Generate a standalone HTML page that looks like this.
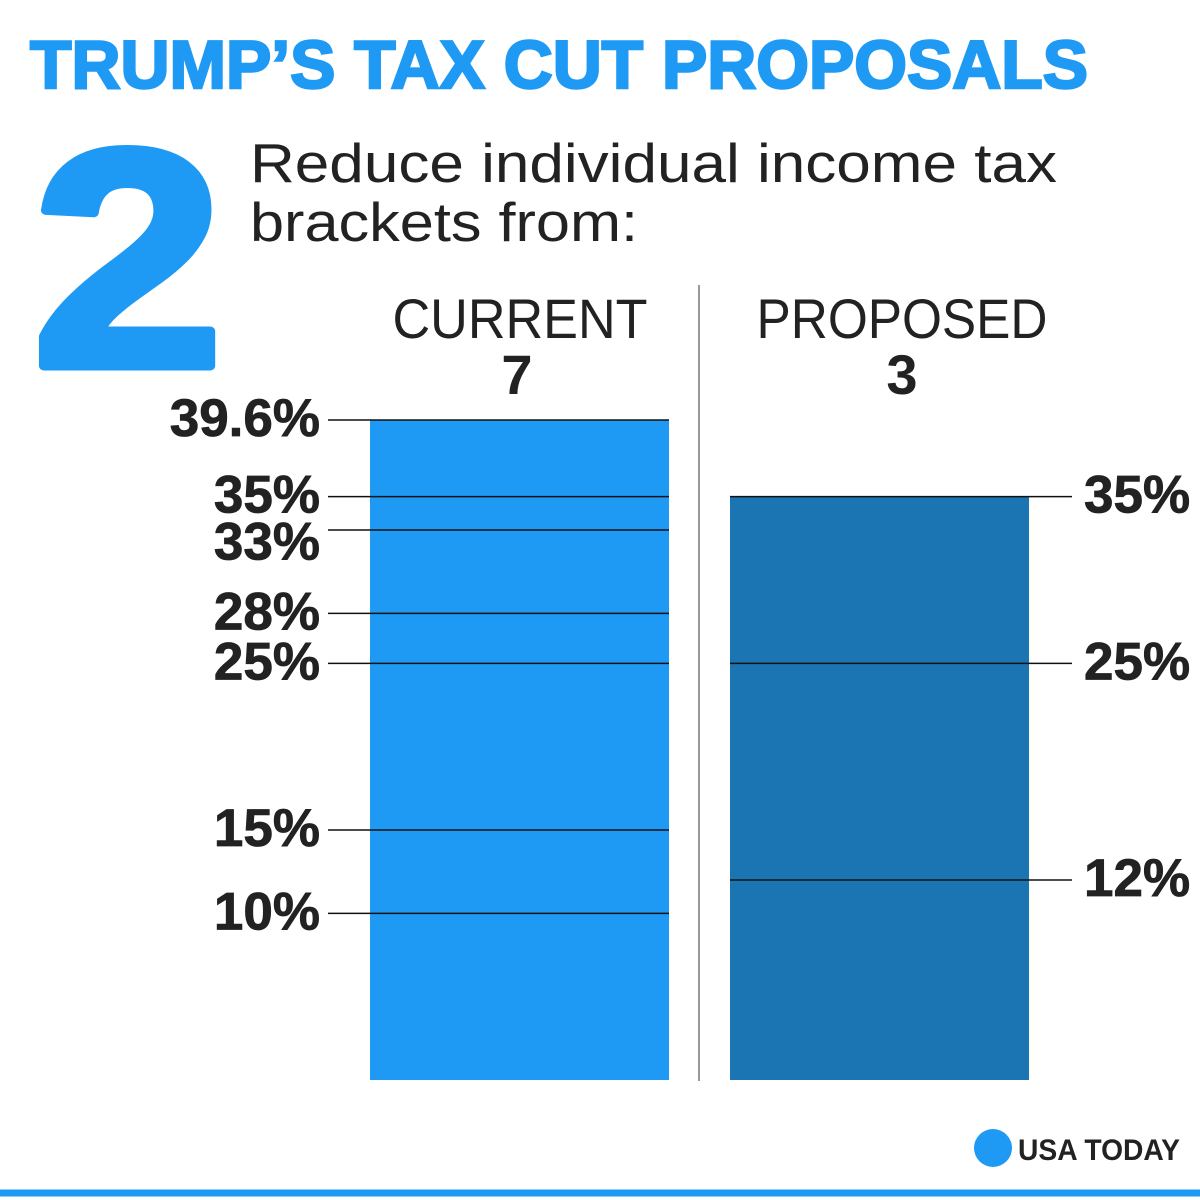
<!DOCTYPE html>
<html><head><meta charset="utf-8"><style>
html,body{margin:0;padding:0;background:#fff;width:1200px;height:1200px;overflow:hidden}
svg{display:block;font-family:"Liberation Sans",sans-serif}
</style></head><body>
<svg id="chart" width="1200" height="1200" viewBox="0 0 1200 1200">
<text x="30" y="88" font-size="68" font-weight="bold" fill="#1e9af5" stroke="#1e9af5" stroke-width="2.5" textLength="1058" lengthAdjust="spacingAndGlyphs">TRUMP’S TAX CUT PROPOSALS</text>
<text x="32" y="366" font-size="310" font-weight="bold" fill="#1e9af5" stroke="#1e9af5" stroke-width="9" stroke-linejoin="round" textLength="192" lengthAdjust="spacingAndGlyphs">2</text>
<text x="250" y="182" font-size="55" fill="#222" textLength="807" lengthAdjust="spacingAndGlyphs">Reduce individual income tax</text>
<text x="250" y="241" font-size="55" fill="#222" textLength="388" lengthAdjust="spacingAndGlyphs">brackets from:</text>
<line x1="699" y1="285" x2="699" y2="1081" stroke="#999" stroke-width="2"/>
<text x="520" y="338" font-size="56" fill="#222" text-anchor="middle" textLength="255" lengthAdjust="spacingAndGlyphs">CURRENT</text>
<text x="517" y="394" font-size="56" font-weight="bold" fill="#222" text-anchor="middle">7</text>
<text x="902" y="338" font-size="56" fill="#222" text-anchor="middle" textLength="291" lengthAdjust="spacingAndGlyphs">PROPOSED</text>
<text x="902" y="394" font-size="56" font-weight="bold" fill="#222" text-anchor="middle">3</text>
<g id="marks"></g>
<line x1="0" y1="1193" x2="1200" y2="1193" stroke="#1e9af5" stroke-width="7"/>
<circle cx="993" cy="1148" r="19" fill="#1e9af5"/>
<text x="1018" y="1160" font-size="30" font-weight="bold" fill="#222" textLength="162" lengthAdjust="spacingAndGlyphs">USA TODAY</text>
</svg>
<script>
const currentRates = [39.6, 35, 33, 28, 25, 15, 10];
const currentLabels = ["39.6%", "35%", "33%", "28%", "25%", "15%", "10%"];
const proposedRates = [35, 25, 12];
const proposedLabels = ["35%", "25%", "12%"];

const NS = "http://www.w3.org/2000/svg";
const y0 = 1080, pxPer = 660 / 39.6;
function y(v){ return y0 - v * pxPer; }
const g = document.getElementById("marks");
function mk(tag, attrs){ const e = document.createElementNS(NS, tag); for (const k in attrs) e.setAttribute(k, attrs[k]); g.appendChild(e); return e; }

const curMax = Math.max(...currentRates);
const cb = mk("rect", {x:370, y:y(curMax), width:299, height:y0 - y(curMax), fill:"#1e9af5"});


const propMax = Math.max(...proposedRates);
const pb = mk("rect", {x:730, y:y(propMax), width:299, height:y0 - y(propMax), fill:"#1b75b3"});



let prevBase = -1000;
currentRates.forEach((v, i) => {
  const l = mk("line", {x1:328, x2:669, y1:y(v), y2:y(v), stroke:"#111", "stroke-width":1.5});
  
  
  let base = y(v) + 16;
  if (base - prevBase < 47) base = prevBase + 47;
  prevBase = base;
  const t = mk("text", {x:320, y:base, "font-size":53, "font-weight":"bold", fill:"#222", stroke:"#222", "stroke-width":0.8, "text-anchor":"end"});
  t.textContent = currentLabels[i];
  
  
});
proposedRates.forEach((v, i) => {
  const l = mk("line", {x1:730, x2:1072, y1:y(v), y2:y(v), stroke:"#111", "stroke-width":1.5});
  
  
  const t = mk("text", {x:1084, y:y(v) + 16, "font-size":53, "font-weight":"bold", fill:"#222", stroke:"#222", "stroke-width":0.8});
  t.textContent = proposedLabels[i];
  
  
});
</script>
</body></html>
